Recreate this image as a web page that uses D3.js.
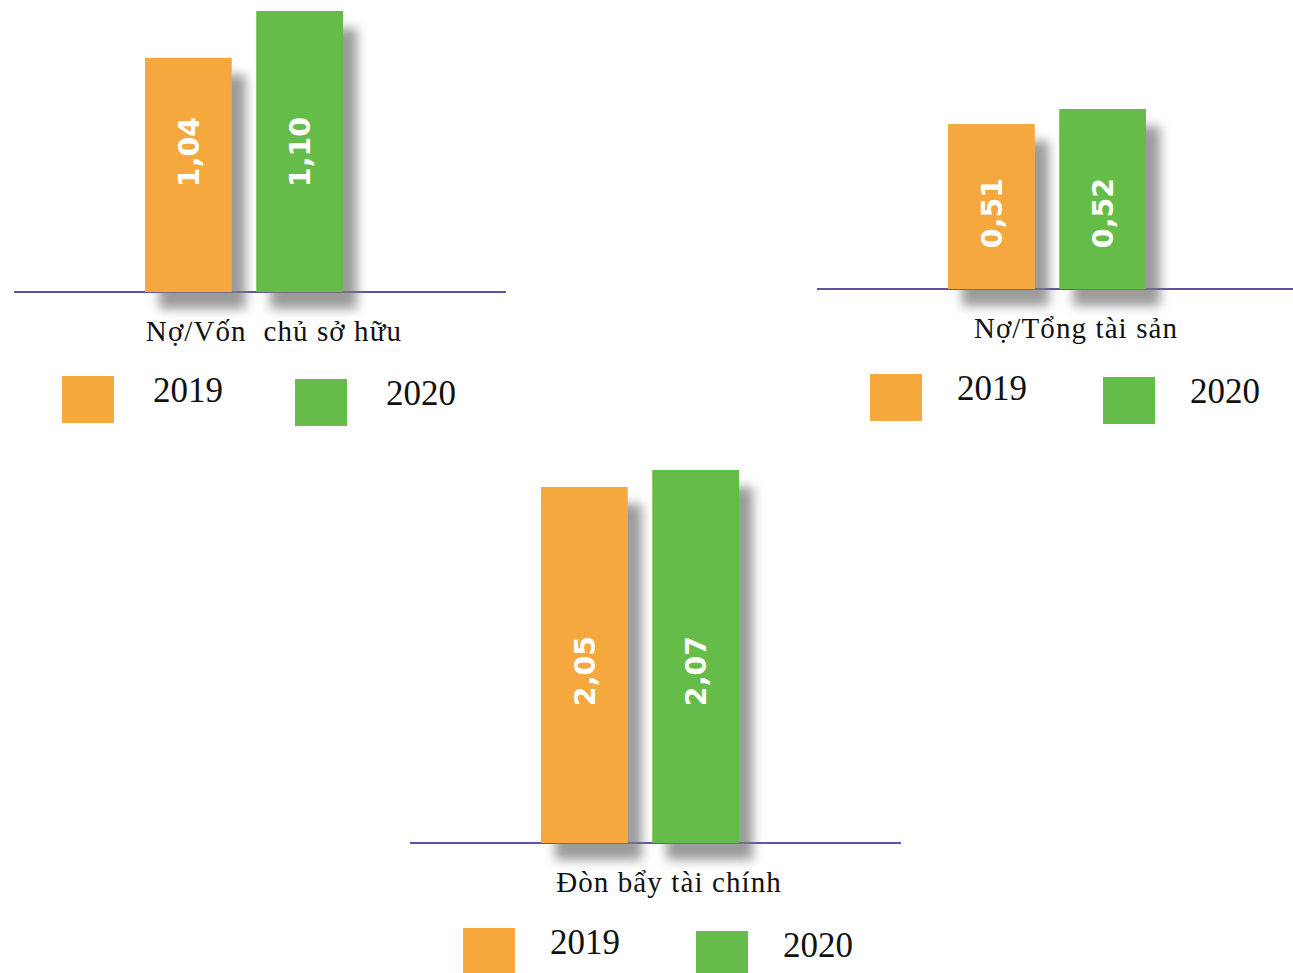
<!DOCTYPE html>
<html>
<head>
<meta charset="utf-8">
<script src="https://cdn.jsdelivr.net/npm/d3@7"></script>
<style>
  html, body { margin: 0; padding: 0; background: #fff; }
  svg { display: block; }
</style>
</head>
<body>
<svg id="chart" width="1293" height="973"></svg>
<script>
// Financial ratios, 2019 vs 2020
const years = ["2019", "2020"];
const ratioNames = ["Nợ/Vốn  chủ sở hữu", "Nợ/Tổng tài sản", "Đòn bẩy tài chính"];
const values2019 = [1.04, 0.51, 2.05];
const values2020 = [1.10, 0.52, 2.07];

const yearColors = { "2019": "#F5A83C", "2020": "#66BC4A" };
const baselineColor = "#6650A3";

// Panel layout: baseline, bar band extent, value axis domain/range, label and legend placement
const panels = [
  { line: [14, 506],  band: [145, 343],  domain: [0.74, 1.10], range: [292, 11],
    labelY: 152, title: [274, 341], legend: [62, 376], legendText: 91 },
  { line: [817, 1293], band: [948, 1146], domain: [0.40, 0.52], range: [289, 109],
    labelY: 213, title: [1076, 338], legend: [870, 374], legendText: 87 },
  { line: [410, 901], band: [541, 739],  domain: [1.63, 2.07], range: [843, 470],
    labelY: 671, title: [669, 892], legend: [463, 928], legendText: 87 }
];

const fmt = d3.formatLocale({ decimal: ",", thousands: ".", grouping: [3], currency: ["", ""] }).format(".2f");

const svg = d3.select("#chart");
svg.append("rect").attr("width", 1293).attr("height", 973).attr("fill", "#fff");

// soft grey drop shadow behind the bars
const defs = svg.append("defs");
const f = defs.append("filter").attr("id", "barShadow")
  .attr("x", "-20%").attr("y", "-20%").attr("width", "160%").attr("height", "160%");
f.append("feDropShadow").attr("dx", 14).attr("dy", 17).attr("stdDeviation", 5.5)
  .attr("flood-color", "#7a7a7a").attr("flood-opacity", 0.75);

panels.forEach((p, i) => {
  const data = [
    { year: years[0], value: values2019[i] },
    { year: years[1], value: values2020[i] }
  ];
  const x = d3.scaleBand().domain(years).range(p.band).paddingInner(0.22).paddingOuter(0);
  const y = d3.scaleLinear().domain(p.domain).range(p.range);
  const g = svg.append("g");

  // baseline
  g.append("line")
    .attr("x1", p.line[0]).attr("x2", p.line[1])
    .attr("y1", y(p.domain[0])).attr("y2", y(p.domain[0]))
    .attr("stroke", baselineColor).attr("stroke-width", 2.2);

  // bars
  g.selectAll("rect.bar").data(data).join("rect")
    .attr("class", "bar")
    .attr("x", d => x(d.year))
    .attr("width", x.bandwidth())
    .attr("y", d => y(d.value))
    .attr("height", d => y(p.domain[0]) - y(d.value))
    .attr("fill", d => yearColors[d.year])
    .attr("filter", "url(#barShadow)");

  // rotated value labels
  g.selectAll("text.val").data(data).join("text")
    .attr("class", "val")
    .attr("transform", d => `translate(${x(d.year) + x.bandwidth() / 2},${p.labelY}) rotate(-90)`)
    .attr("text-anchor", "middle")
    .attr("dy", "0.36em")
    .attr("font-family", "DejaVu Sans")
    .attr("font-weight", "bold")
    .attr("font-size", 28.5)
    .attr("fill", "#fff")
    .text(d => fmt(d.value));

  // panel title
  g.append("text")
    .attr("x", p.title[0]).attr("y", p.title[1])
    .attr("text-anchor", "middle")
    .attr("font-family", "Liberation Serif")
    .attr("font-size", 29)
    .attr("letter-spacing", 1.1)
    .attr("fill", "#111")
    .style("white-space", "pre")
    .attr("xml:space", "preserve")
    .text(ratioNames[i]);

  // legend
  const lg = g.append("g").attr("transform", `translate(${p.legend[0]},${p.legend[1]})`);
  years.forEach((yr, j) => {
    const ox = j * 233, oy = j * 3;
    lg.append("rect").attr("x", ox).attr("y", oy).attr("width", 52).attr("height", 47)
      .attr("fill", yearColors[yr]);
    lg.append("text").attr("x", ox + p.legendText).attr("y", oy + 26)
      .attr("font-family", "Liberation Serif").attr("font-size", 35)
      .attr("fill", "#111").text(yr);
  });
});
</script>
</body>
</html>
